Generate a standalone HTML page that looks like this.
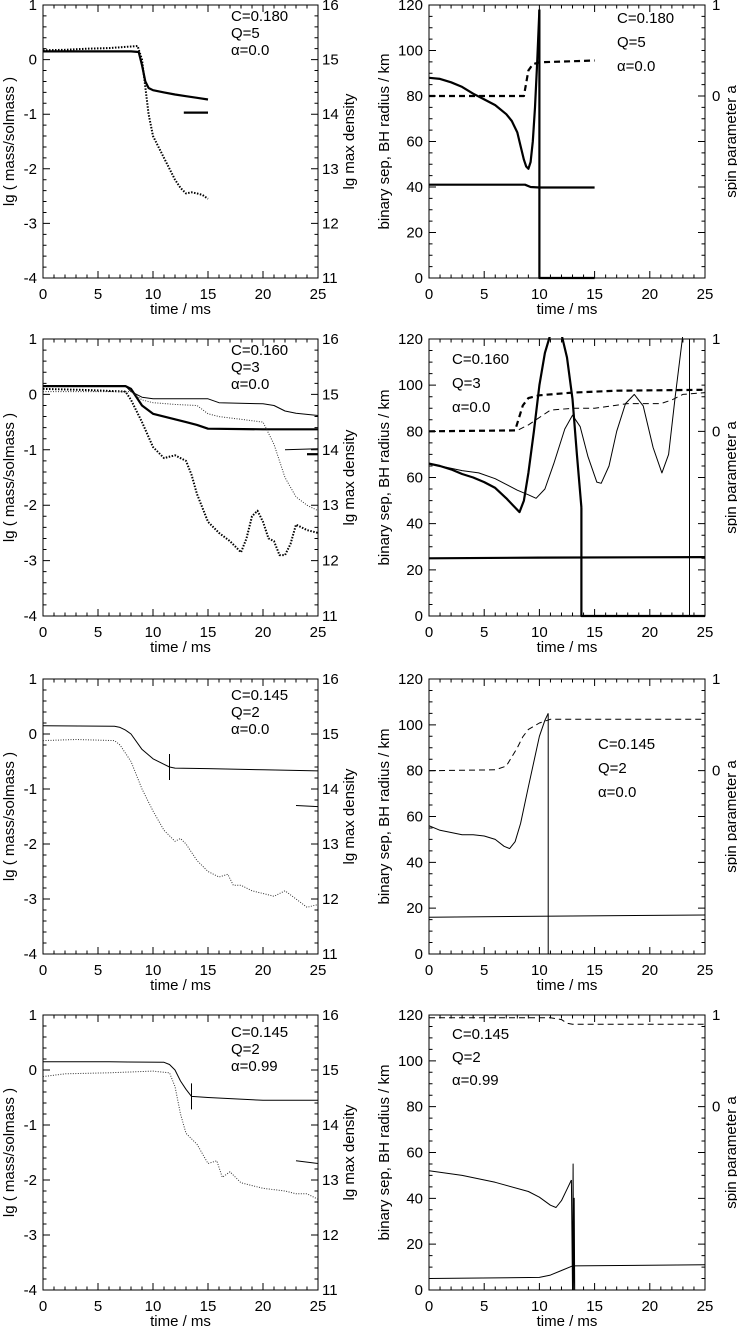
<!DOCTYPE html>
<html><head><meta charset="utf-8"><style>
html,body{margin:0;padding:0;background:#fff}
svg{display:block}
text{font-family:"Liberation Sans",sans-serif;font-size:15px;fill:#000}
</style></head><body>
<svg id="fig" width="737" height="1330" viewBox="0 0 737 1330"></svg>
<script>
// ---- data (time in ms) ----
// Row 1 left
const r1L_solid_t=[0,2,4,6,8,8.7,9,9.3,9.6,10,11,12,13,14,15];
const r1L_solid_v=[0.15,0.15,0.15,0.15,0.15,0.14,-0.1,-0.4,-0.52,-0.56,-0.6,-0.64,-0.67,-0.7,-0.73];
const r1L_seg_t=[12.8,15];
const r1L_seg_v=[-0.97,-0.97];
const r1L_dot_t=[0,2,4,6,8,8.6,9,9.3,9.6,10,10.5,11,11.5,12,12.5,13,13.5,14,14.5,15];
const r1L_dot_v=[0.17,0.18,0.2,0.21,0.24,0.25,0,-0.5,-1.0,-1.4,-1.6,-1.8,-2.0,-2.2,-2.35,-2.45,-2.43,-2.45,-2.48,-2.55];
// Row 1 right
const r1R_sep_t=[0,1,2,3,4,5,6,7,7.5,8,8.3,8.6,8.8,9,9.2,9.4,9.6,9.8,10];
const r1R_sep_v=[88,87.5,86,84,81,78.5,76,72,69,64,58,52,49,48,51,60,75,95,118];
const r1R_plunge_t=[10,10,15];
const r1R_plunge_v=[118,0,0];
const r1R_bh_t=[0,8.7,9.2,10,15];
const r1R_bh_v=[41,41,40,39.8,39.8];
const r1R_spin_t=[0,8.6,9,9.4,10,15];
const r1R_spin_v=[0,0,0.28,0.35,0.37,0.39];
// Row 2 left
const r2L_thick_t=[0,7.5,8,9,10,11,12,13,14,15,20,25];
const r2L_thick_v=[0.15,0.15,0.1,-0.2,-0.35,-0.4,-0.45,-0.5,-0.55,-0.62,-0.63,-0.63];
const r2L_thin_t=[0,7.5,8,9,10,15,16,20,21,22,23,25];
const r2L_thin_v=[0.15,0.15,0.05,-0.05,-0.08,-0.08,-0.15,-0.17,-0.2,-0.3,-0.34,-0.38];
const r2L_thinseg_t=[22,25];
const r2L_thinseg_v=[-1.0,-0.98];
const r2L_thickseg_t=[24,25];
const r2L_thickseg_v=[-1.08,-1.08];
const r2L_tdot_t=[0,4,7.5,8,9,10,11,12,13,13.5,14,15,16,17,18,18.5,19,19.5,20,20.5,21,21.5,22,22.5,23,24,25];
const r2L_tdot_v=[0.1,0.08,0.05,-0.1,-0.5,-0.95,-1.15,-1.1,-1.2,-1.45,-1.8,-2.3,-2.5,-2.65,-2.85,-2.6,-2.2,-2.1,-2.3,-2.6,-2.65,-2.9,-2.9,-2.7,-2.35,-2.45,-2.5];
const r2L_ndot_t=[0,4,8,9,10,12,14,15,16,18,20,21,22,23,24,25];
const r2L_ndot_v=[0.05,0.05,0.05,-0.1,-0.15,-0.18,-0.2,-0.35,-0.4,-0.45,-0.5,-0.9,-1.5,-1.85,-2.0,-2.1];
// Row 2 right
const r2R_thick_t=[0,1,2,3,4,5,6,7,7.6,8.2,8.6,9,9.5,10,10.5,11,11.5,12,12.5,13,13.4,13.8];
const r2R_thick_v=[66,65,63.5,61.5,60,58,55.5,51,48,45,50,62,80,100,114,122,124,122,112,94,70,47];
const r2R_thickplunge_t=[13.8,13.8,25];
const r2R_thickplunge_v=[47,0,0];
const r2R_thin_t=[0,1.5,3,4.5,6,7,8,9,9.7,10.5,11.3,12.3,13,13.7,14.4,15.2,15.6,16.3,17,17.8,18.6,19.4,20.3,21.1,21.7,22.3,23];
const r2R_thin_v=[66,64.5,63,62,59.5,57,54.5,52.5,51,55,66,81,87,82,69,58,57.5,65,80,92,96,91,73,62,70,95,122];
const r2R_thinvert_t=[23.6,23.6];
const r2R_thinvert_v=[0,120];
const r2R_bh_t=[0,10,25];
const r2R_bh_v=[25,25.3,25.5];
const r2R_spinThick_t=[0,7.8,8.5,9,10,13,17,25];
const r2R_spinThick_v=[0,0.01,0.28,0.36,0.39,0.42,0.44,0.45];
const r2R_spinThin_t=[0,8,9,10,11,13,15,18,21,22,23,25];
const r2R_spinThin_v=[0,0.01,0.07,0.15,0.23,0.25,0.25,0.3,0.3,0.34,0.4,0.42];
// Row 3 left
const r3L_solid_t=[0,6.5,7,7.5,8,9,10,11,11.5,12,15,20,25];
const r3L_solid_v=[0.15,0.14,0.12,0.07,0,-0.28,-0.45,-0.55,-0.6,-0.62,-0.63,-0.65,-0.67];
const r3L_mark_t=[11.5];
const r3L_seg_t=[23,25];
const r3L_seg_v=[-1.3,-1.32];
const r3L_dot_t=[0,3,6.5,7,8,9,10,11,12,12.5,13,14,15,16,16.8,17.3,18,19,20,21,22,23,24,25];
const r3L_dot_v=[-0.12,-0.1,-0.12,-0.2,-0.5,-1.0,-1.4,-1.75,-1.95,-1.9,-2.0,-2.3,-2.5,-2.6,-2.55,-2.75,-2.75,-2.85,-2.9,-2.95,-2.85,-3.0,-3.15,-3.1];
// Row 3 right
const r3R_sep_t=[0,1,2,3,4,5,6,6.8,7.3,7.8,8.3,9,9.5,10,10.5,10.8];
const r3R_sep_v=[56,54,53,52,52,51.5,50,47,46,49,57,73,84,95,102,105];
const r3R_plunge_t=[10.8,10.8];
const r3R_plunge_v=[105,0];
const r3R_bh_t=[0,10,25];
const r3R_bh_v=[16,16.5,17];
const r3R_spin_t=[0,6,7,7.5,8,8.5,9,10,11,25];
const r3R_spin_v=[0,0.01,0.05,0.15,0.25,0.37,0.45,0.52,0.56,0.56];
// Row 4 left
const r4L_solid_t=[0,6,11,11.5,12,12.5,13,13.5,15,20,25];
const r4L_solid_v=[0.15,0.15,0.14,0.1,0,-0.2,-0.35,-0.48,-0.5,-0.55,-0.55];
const r4L_mark_t=[13.5];
const r4L_seg_t=[23,25];
const r4L_seg_v=[-1.65,-1.7];
const r4L_dot_t=[0,2,6,10,11.5,12,12.5,13,14,15,15.8,16.3,17,17.5,18,20,22,23,24,25];
const r4L_dot_v=[-0.12,-0.07,-0.05,-0.02,-0.05,-0.3,-0.8,-1.15,-1.35,-1.7,-1.65,-1.95,-1.85,-1.95,-2.05,-2.15,-2.2,-2.25,-2.25,-2.35];
// Row 4 right
const r4R_sep_t=[0,3,6,9,10,11,11.5,12,12.5,12.9];
const r4R_sep_v=[52,50,47,43,40.5,37,36,39,44,48];
const r4R_spike_t=[12.9,13.0,13.05,13.1,13.15,13.2];
const r4R_spike_v=[48,0,55,0,40,0];
const r4R_bh_t=[0,10,11,12,13,25];
const r4R_bh_v=[5,5.5,6.5,8.5,10.5,11];
const r4R_spin_t=[0,11,12,12.5,13,25];
const r4R_spin_v=[0.97,0.97,0.95,0.91,0.9,0.9];
// axis ticks
const xTicks=[0,5,10,15,20,25];
const lTicks=[1,0,-1,-2,-3,-4];
const lTickLabels=["1","0","-1","-2","-3","-4"];
const rhoTicks=["16","15","14","13","12","11"];
const kmTicks=[120,100,80,60,40,20,0];
const spinTicks=[1,0];

const NS="http://www.w3.org/2000/svg";
const svg=document.getElementById('fig');
function mk(tag,attrs,parent){const e=document.createElementNS(NS,tag);for(const k in attrs)e.setAttribute(k,attrs[k]);(parent||svg).appendChild(e);return e;}
const rows=[[5,278],[339,616],[679,954],[1015,1290]];
const LX=[43,318], RX=[429,705];

function makePanel(name,x0,x1,y0,y1,ymin,ymax){
  const g=mk('g',{});
  
  
  const sx=t=>x0+(t/25)*(x1-x0);
  const sy=v=>y1-(v-ymin)/(ymax-ymin)*(y1-y0);
  return {g,sx,sy,x0,x1,y0,y1};
}
function frame(P,isLeft){
  const {g,sx,sy,x0,x1,y0,y1}=P;
  const fr=mk('rect',{x:x0,y:y0,width:x1-x0,height:y1-y0,fill:'none',stroke:'#000','stroke-width':1},g);
  
  
  let d='';
  for(let t=0;t<=25;t+=1){const x=sx(t);const L=(t%5===0)?7:3.5;d+=`M${x},${y1}v${-L}M${x},${y0}v${L}`;}
  if(isLeft){
    for(let v=-4;v<=1.001;v+=0.2){const y=sy(v);const maj=Math.abs(v-Math.round(v))<0.01;const L=maj?7:3.5;d+=`M${x0},${y}h${L}M${x1},${y}h${-L}`;}
  }else{
    for(let v=0;v<=120;v+=5){const y=sy(v);const L=(v%20===0)?7:3.5;d+=`M${x0},${y}h${L}`;}
    for(let s=0;s<=1.001;s+=0.125){const y=sy(80+40*s);const L=(Math.abs(s-Math.round(s))<0.01)?7:3.5;d+=`M${x1},${y}h${-L}`;}
    for(let v=0;v<80;v+=5){const y=sy(v);const L=(v%20===0)?7:3.5;d+=`M${x1},${y}h${-L}`;}
  }
  const tk=mk('path',{d,stroke:'#000','stroke-width':1,fill:'none'},g);
  
  
  xTicks.forEach(t=>{const e=mk('text',{x:sx(t),y:y1+21,'text-anchor':'middle'},g);e.textContent=String(t);
    
    });
  const xt=mk('text',{x:(x0+x1)/2,y:y1+36,'text-anchor':'middle'},g);xt.textContent='time / ms';
  
  
  if(isLeft){
    lTicks.forEach((v,i)=>{const e=mk('text',{x:x0-6,y:sy(v)+5,'text-anchor':'end'},g);e.textContent=lTickLabels[i];
      
      });
    lTicks.forEach((v,i)=>{const e=mk('text',{x:x1+4,y:sy(v)+5},g);e.textContent=rhoTicks[i];
      
      });
    const yt=mk('text',{x:0,y:0,'text-anchor':'middle',transform:`translate(${x0-29},${(y0+y1)/2}) rotate(-90)`},g);yt.textContent='lg ( mass/solmass )';
    
    
    const rt=mk('text',{x:0,y:0,'text-anchor':'middle',transform:`translate(${x1+36},${(y0+y1)/2}) rotate(-90)`},g);rt.textContent='lg max density';
    
    
  }else{
    kmTicks.forEach(v=>{const e=mk('text',{x:x0-6,y:sy(v)+5,'text-anchor':'end'},g);e.textContent=String(v);
      
      });
    spinTicks.forEach(s=>{const e=mk('text',{x:x1+7,y:sy(80+40*s)+5},g);e.textContent=String(s);
      
      });
    const yt=mk('text',{x:0,y:0,'text-anchor':'middle',transform:`translate(${x0-40},${(y0+y1)/2}) rotate(-90)`},g);yt.textContent='binary sep, BH radius / km';
    
    
    const rt=mk('text',{x:0,y:0,'text-anchor':'middle',transform:`translate(${x1+31},${(y0+y1)/2}) rotate(-90)`},g);rt.textContent='spin parameter a';
    
    
  }
}
function line(P,ts,vs,style,name,isSpin){
  const cp='clip'+Math.round(P.x0)+'_'+Math.round(P.y0);
  if(!document.getElementById(cp)){const c=mk('clipPath',{id:cp});mk('rect',{x:P.x0,y:P.y0-2,width:P.x1-P.x0,height:P.y1-P.y0+4},c);}
  const pts=ts.map((t,i)=>`${P.sx(t).toFixed(1)},${P.sy(isSpin?80+40*vs[i]:vs[i]).toFixed(1)}`).join(' ');
  const a={points:pts,fill:'none',stroke:'#000','clip-path':`url(#${cp})`,'stroke-linejoin':'round'};
  if(style==='thick'){a['stroke-width']=2.2;}
  else if(style==='thin'){a['stroke-width']=1;}
  else if(style==='dash'){a['stroke-width']=2.2;a['stroke-dasharray']='6,4';}
  else if(style==='tdash'){a['stroke-width']=1;a['stroke-dasharray']='6,4';}
  else if(style==='dot'){a['stroke-width']=1;a['stroke-dasharray']='1,1.5';a.stroke='#333';}
  else if(style==='tdot'){a['stroke-width']=2;a['stroke-dasharray']='1.5,1.5';}
  const e=mk('polyline',a,P.g);
  
  
}
function mark(P,t,vs,ts){
  let v=vs[0];for(let i=0;i<ts.length-1;i++){if(t>=ts[i]&&t<=ts[i+1]){v=vs[i]+(vs[i+1]-vs[i])*(t-ts[i])/(ts[i+1]-ts[i]);}}
  const e=mk('line',{x1:P.sx(t),x2:P.sx(t),y1:P.sy(v)-13,y2:P.sy(v)+13,stroke:'#000','stroke-width':1},P.g);
  
  
}
function label(P,x,y,lines,gap){
  lines.forEach((s,i)=>{const e=mk('text',{x,y:y+i*gap},P.g);e.textContent=s;
    
    });
}

// Row 1
let P=makePanel('panel-c180-mass',LX[0],LX[1],rows[0][0],rows[0][1],-4,1);frame(P,true);
line(P,r1L_solid_t,r1L_solid_v,'thick','mass-curve');
line(P,r1L_seg_t,r1L_seg_v,'thick','mass-segment');
line(P,r1L_dot_t,r1L_dot_v,'tdot','density-curve');
label(P,231,21,['C=0.180','Q=5','\u03b1=0.0'],17);
P=makePanel('panel-c180-sep',RX[0],RX[1],rows[0][0],rows[0][1],0,120);frame(P,false);
line(P,r1R_sep_t,r1R_sep_v,'thick','binary-sep-curve');
line(P,r1R_plunge_t,r1R_plunge_v,'thick','plunge-line');
line(P,r1R_bh_t,r1R_bh_v,'thick','bh-radius-curve');
line(P,r1R_spin_t,r1R_spin_v,'dash','spin-curve',true);
label(P,617,23,['C=0.180','Q=5','\u03b1=0.0'],24);
// Row 2
P=makePanel('panel-c160-mass',LX[0],LX[1],rows[1][0],rows[1][1],-4,1);frame(P,true);
line(P,r2L_thick_t,r2L_thick_v,'thick','mass-curve-thick');
line(P,r2L_thin_t,r2L_thin_v,'thin','mass-curve-thin');
line(P,r2L_thinseg_t,r2L_thinseg_v,'thin','mass-segment-thin');
line(P,r2L_thickseg_t,r2L_thickseg_v,'thick','mass-segment-thick');
line(P,r2L_tdot_t,r2L_tdot_v,'tdot','density-curve-thick');
line(P,r2L_ndot_t,r2L_ndot_v,'dot','density-curve-thin');
label(P,231,355,['C=0.160','Q=3','\u03b1=0.0'],17);
P=makePanel('panel-c160-sep',RX[0],RX[1],rows[1][0],rows[1][1],0,120);frame(P,false);
line(P,r2R_thick_t,r2R_thick_v,'thick','binary-sep-thick');
line(P,r2R_thickplunge_t,r2R_thickplunge_v,'thick','plunge-line-thick');
line(P,r2R_thin_t,r2R_thin_v,'thin','binary-sep-thin');
line(P,r2R_thinvert_t,r2R_thinvert_v,'thin','plunge-line-thin');
line(P,r2R_bh_t,r2R_bh_v,'thick','bh-radius-curve');
line(P,r2R_spinThick_t,r2R_spinThick_v,'dash','spin-curve-thick',true);
line(P,r2R_spinThin_t,r2R_spinThin_v,'tdash','spin-curve-thin',true);
label(P,452,364,['C=0.160','Q=3','\u03b1=0.0'],24);
// Row 3
P=makePanel('panel-c145-mass',LX[0],LX[1],rows[2][0],rows[2][1],-4,1);frame(P,true);
line(P,r3L_solid_t,r3L_solid_v,'thin','mass-curve');
mark(P,r3L_mark_t[0],r3L_solid_v,r3L_solid_t);
line(P,r3L_seg_t,r3L_seg_v,'thin','mass-segment');
line(P,r3L_dot_t,r3L_dot_v,'dot','density-curve');
label(P,231,700,['C=0.145','Q=2','\u03b1=0.0'],17);
P=makePanel('panel-c145-sep',RX[0],RX[1],rows[2][0],rows[2][1],0,120);frame(P,false);
line(P,r3R_sep_t,r3R_sep_v,'thin','binary-sep-curve');
line(P,r3R_plunge_t,r3R_plunge_v,'thin','plunge-line');
line(P,r3R_bh_t,r3R_bh_v,'thin','bh-radius-curve');
line(P,r3R_spin_t,r3R_spin_v,'tdash','spin-curve',true);
label(P,598,749,['C=0.145','Q=2','\u03b1=0.0'],24);
// Row 4
P=makePanel('panel-c145-spin099-mass',LX[0],LX[1],rows[3][0],rows[3][1],-4,1);frame(P,true);
line(P,r4L_solid_t,r4L_solid_v,'thin','mass-curve');
mark(P,r4L_mark_t[0],r4L_solid_v,r4L_solid_t);
line(P,r4L_seg_t,r4L_seg_v,'thin','mass-segment');
line(P,r4L_dot_t,r4L_dot_v,'dot','density-curve');
label(P,231,1037,['C=0.145','Q=2','\u03b1=0.99'],17);
P=makePanel('panel-c145-spin099-sep',RX[0],RX[1],rows[3][0],rows[3][1],0,120);frame(P,false);
line(P,r4R_sep_t,r4R_sep_v,'thin','binary-sep-curve');
line(P,r4R_spike_t,r4R_spike_v,'thin','plunge-spike');
line(P,r4R_bh_t,r4R_bh_v,'thin','bh-radius-curve');
line(P,r4R_spin_t,r4R_spin_v,'tdash','spin-curve',true);
label(P,452,1039,['C=0.145','Q=2','\u03b1=0.99'],23);
</script>
</body></html>
